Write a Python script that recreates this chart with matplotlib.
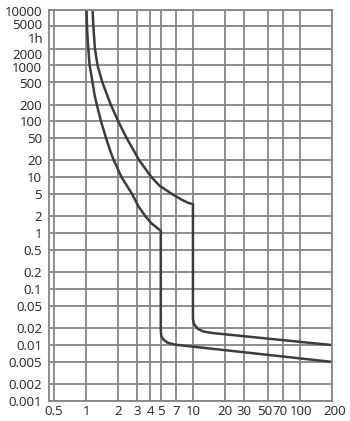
import matplotlib
matplotlib.use("Agg")
import matplotlib.pyplot as plt
from matplotlib.transforms import ScaledTranslation

plt.rcParams['font.family'] = ['Open Sans', 'DejaVu Sans']

# tick values / labels
x_ticks = [0.5, 1, 2, 3, 4, 5, 7, 10, 20, 30, 50, 70, 100, 200]
x_labels = ["0.5", "1", "2", "3", "4", "5", "7", "10", "20", "30", "50", "70", "100", "200"]
y_ticks = [10000, 5000, 2000, 1000, 500, 200, 100, 50, 20, 10, 5, 2, 1,
           0.5, 0.2, 0.1, 0.05, 0.02, 0.01, 0.005, 0.002, 0.001]
y_labels = ["10000", "5000", "2000", "1000", "500", "200", "100", "50", "20", "10", "5", "2", "1",
            "0.5", "0.2", "0.1", "0.05", "0.02", "0.01", "0.005", "0.002", "0.001"]

# lower trip boundary (multiple of In, seconds)
low_x = [1.01, 1.02, 1.035, 1.05, 1.08, 1.15, 1.2, 1.26, 1.38, 1.54, 1.68, 1.82, 2.15, 2.7, 3.1, 3.6, 4.1, 5.0,
         5.0, 5.05, 5.3, 5.8, 6.5, 7.0, 200]
low_t = [10000, 5000, 3000, 2000, 1000, 500, 300, 200, 100, 50, 30, 20, 10, 5, 3, 2, 1.5, 1.1,
         0.019, 0.0145, 0.0125, 0.011, 0.0104, 0.0101, 0.005]

# upper trip boundary
high_x = [1.15, 1.17, 1.21, 1.28, 1.42, 1.7, 2.0, 2.4, 3.15, 4.1, 4.9, 6.4, 7.8, 9.0, 10.0,
          10.0, 10.2, 11.1, 12.5, 15.3, 200]
high_t = [10000, 5000, 2000, 1000, 500, 200, 100, 50, 20, 10, 7, 5, 4, 3.5, 3.3,
          0.03, 0.024, 0.0195, 0.0175, 0.0164, 0.01]

# crowded labels are nudged (points: +up / +right)
y_nudge = {"10000": -1, "5000": 2, "2000": -5, "1000": -2, "500": -1}
x_nudge = {"50": -3, "70": -3, "100": 1, "200": 3}

fig = plt.figure(figsize=(3.5, 4.21), dpi=100)
ax = fig.add_axes([49 / 350, 1 - 401 / 421, 283 / 350, 391.5 / 421])

ax.set_xscale("log")
ax.set_yscale("log")
ax.set_xlim(0.45, 200)
ax.set_ylim(0.001, 10000)

ax.set_xticks(x_ticks)
ax.set_xticklabels(x_labels)
ax.set_yticks(y_ticks)
ax.set_yticklabels(y_labels)
ax.minorticks_off()
ax.tick_params(length=0, labelsize=9.5, colors="#222222")
ax.tick_params(axis="y", pad=5)
ax.tick_params(axis="x", pad=3)

ax.grid(True, which="major", color="#858585", linewidth=1.3)
for s in ax.spines.values():
    s.set_color("#858585")
    s.set_linewidth(1.3)

ax.plot(low_x, low_t, color="#3c3c3c", linewidth=1.8, solid_joinstyle="round")
ax.plot(high_x, high_t, color="#3c3c3c", linewidth=1.8, solid_joinstyle="round")

# "1h" label squeezed between 5000 and 2000
ax.text(-5 / 283, 3600, "1h", ha="right", va="center", fontsize=9.5, color="#222222",
        transform=ax.get_yaxis_transform() + ScaledTranslation(0, -5 / 100, fig.dpi_scale_trans))

for lab in ax.get_yticklabels():
    dy = y_nudge.get(lab.get_text(), 0)
    if dy:
        lab.set_transform(lab.get_transform() + ScaledTranslation(0, dy / 100, fig.dpi_scale_trans))
for lab in ax.get_xticklabels():
    dx = x_nudge.get(lab.get_text(), 0)
    if dx:
        lab.set_transform(lab.get_transform() + ScaledTranslation(dx / 100, 0, fig.dpi_scale_trans))

fig.savefig("out.png", dpi=100)
